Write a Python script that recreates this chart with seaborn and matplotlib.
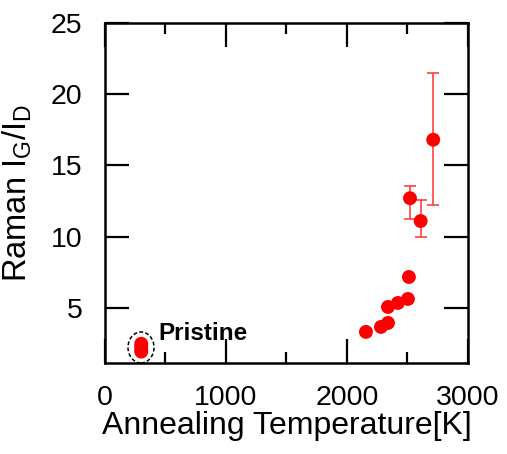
import matplotlib
matplotlib.use("Agg")
import matplotlib.pyplot as plt
from matplotlib.patches import Ellipse
import seaborn as sns
import pandas as pd

# Annealed samples (temperature in K, Raman IG/ID)
temps = [2157, 2281, 2339, 2339, 2421, 2504, 2512, 2521, 2609, 2713]
ratios = [3.33, 3.68, 3.96, 5.08, 5.36, 5.64, 7.18, 12.7, 11.1, 16.8]
err_low = [0, 0, 0, 0, 0, 0, 0, 1.45, 1.1, 4.55]
err_high = [0, 0, 0, 0, 0, 0, 0, 0.85, 1.45, 4.7]

# Pristine samples
pristine_temp = [300, 300, 300, 300]
pristine_ratios = [1.95, 2.1, 2.3, 2.5]

sns.set_style("ticks")
plt.rcParams['font.family'] = ['Liberation Sans', 'DejaVu Sans']
plt.rcParams['mathtext.default'] = 'regular'
for k in ['text.color', 'axes.labelcolor', 'xtick.color', 'ytick.color', 'axes.edgecolor']:
    plt.rcParams[k] = 'black'

df = pd.DataFrame({'T': temps + pristine_temp, 'R': ratios + pristine_ratios})

fig = plt.figure(figsize=(5.07, 4.54), dpi=100)
ax = fig.add_axes([0.207, 0.2004, 0.716, 0.7496])

# error bars only where present
for t, r, lo, hi in zip(temps, ratios, err_low, err_high):
    if lo or hi:
        ax.errorbar([t], [r], yerr=[[lo], [hi]], fmt='none', ecolor='#ff3030',
                    elinewidth=1.1, capsize=4.5, capthick=1.1, zorder=2)

sns.scatterplot(data=df, x='T', y='R', color='#ff0000', s=100, edgecolor='none',
                ax=ax, zorder=3, legend=False)

ax.add_patch(Ellipse((298, 2.24), 215, 2.17, fill=False, edgecolor='black',
                     linestyle=(0, (2.5, 1.5)), linewidth=1.1, zorder=4))
ax.text(440, 3.25, 'Pristine', fontsize=17.5, fontweight='bold', va='center', ha='left')

ax.set_xlim(0, 3000)
ax.set_ylim(1.15, 25)
ax.set_xticks([0, 1000, 2000, 3000])
ax.set_xticks([500, 1500, 2500], minor=True)
ax.set_yticks([5, 10, 15, 20, 25])

ax.tick_params(which='major', direction='in', length=17, width=1.6,
               top=True, right=True, labelsize=20.5)
ax.tick_params(which='minor', direction='in', length=8, width=1.6,
               top=True, right=True)
ax.tick_params(axis='x', pad=16)
ax.tick_params(axis='y', pad=16)
for sp in ax.spines.values():
    sp.set_linewidth(1.8)

ax.set_xlabel('Annealing Temperature[K]', fontsize=23, labelpad=0)
ax.set_ylabel('Raman I$_{G}$/I$_{D}$', fontsize=23.5, labelpad=12)

fig.savefig('out.png', dpi=100)
